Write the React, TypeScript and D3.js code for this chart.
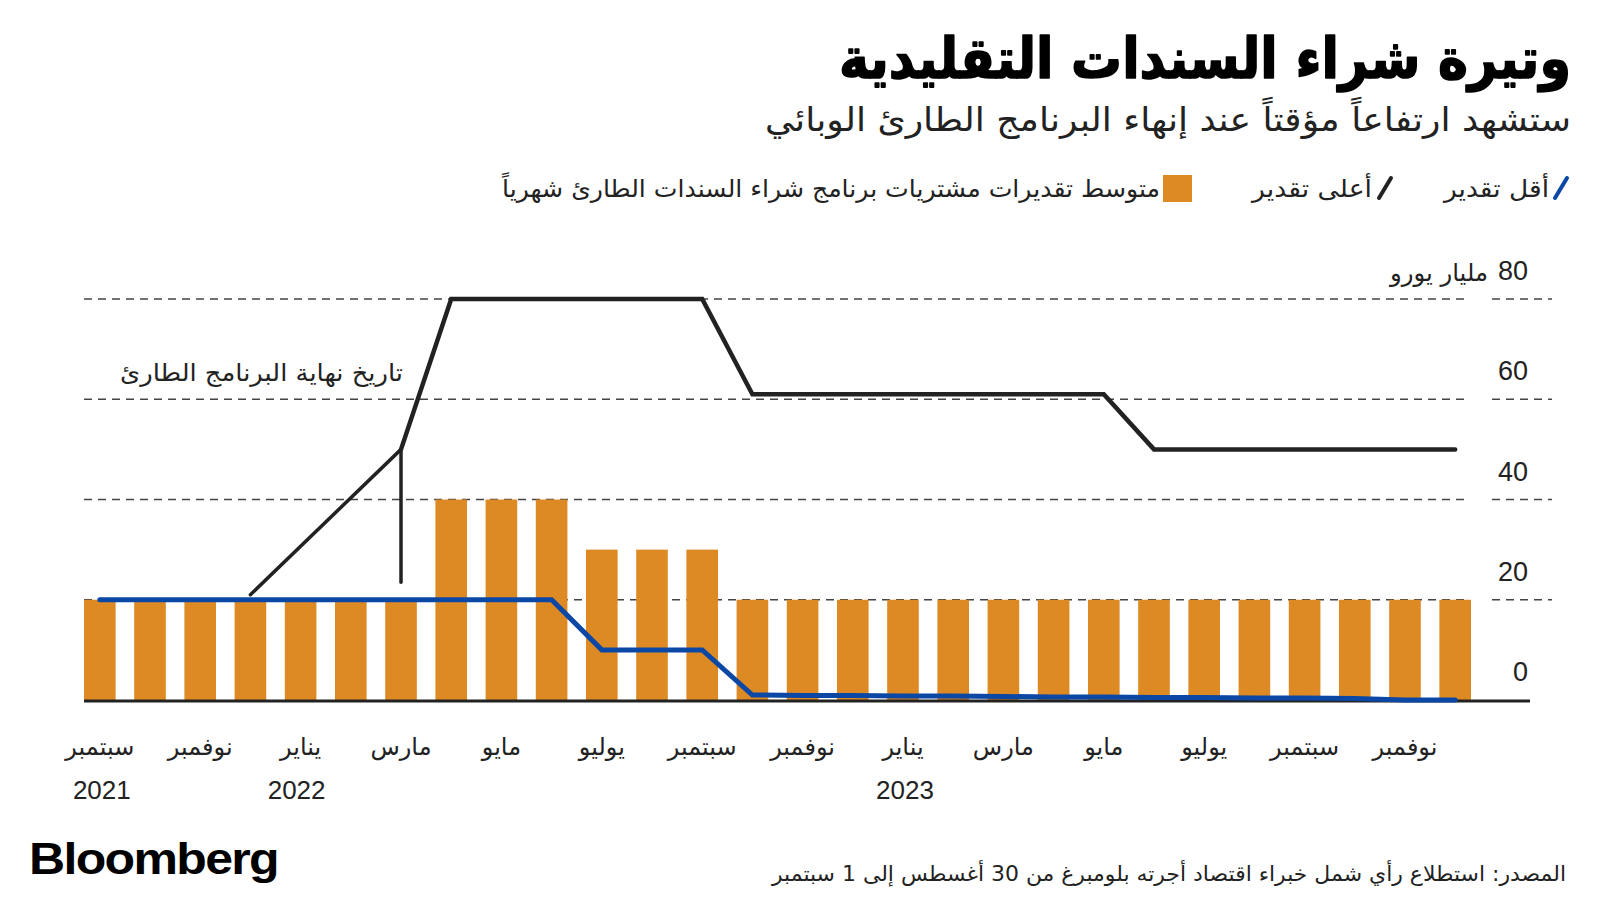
import React from "react";
import * as d3 from "d3";

// ---- data ----
const months: string[] = [
  "2021-09", "2021-10", "2021-11", "2021-12",
  "2022-01", "2022-02", "2022-03", "2022-04", "2022-05", "2022-06",
  "2022-07", "2022-08", "2022-09", "2022-10", "2022-11", "2022-12",
  "2023-01", "2023-02", "2023-03", "2023-04", "2023-05", "2023-06",
  "2023-07", "2023-08", "2023-09", "2023-10", "2023-11", "2023-12",
];

// median monthly purchases estimate (bn EUR)
const avgEstimate: number[] = [
  20, 20, 20, 20, 20, 20, 20,
  40, 40, 40,
  30, 30, 30,
  20, 20, 20, 20, 20, 20, 20, 20, 20, 20, 20, 20, 20, 20, 20,
];

// highest estimate (points where the line bends)
const highMonths: string[] = ["2021-12", "2022-03", "2022-04", "2022-09", "2022-10", "2023-05", "2023-06", "2023-12"];
const highValues: number[] = [21, 50, 80, 80, 61, 61, 50, 50];

// lowest estimate
const lowMonths: string[] = [
  "2021-09", "2022-06", "2022-07", "2022-09", "2022-10", "2022-11", "2022-12",
  "2023-01", "2023-02", "2023-03", "2023-04", "2023-05", "2023-06", "2023-07",
  "2023-08", "2023-09", "2023-10", "2023-11", "2023-12",
];
const lowValues: number[] = [20, 20, 10, 10, 1, 0.9, 0.9, 0.8, 0.8, 0.7, 0.6, 0.6, 0.5, 0.5, 0.4, 0.4, 0.3, 0, 0];

const yTicks: number[] = [0, 20, 40, 60, 80];
const yUnit = "مليار يورو";

const tickMonths: string[] = [
  "2021-09", "2021-11", "2022-01", "2022-03", "2022-05", "2022-07", "2022-09",
  "2022-11", "2023-01", "2023-03", "2023-05", "2023-07", "2023-09", "2023-11",
];
const tickLabels: string[] = [
  "سبتمبر", "نوفمبر", "يناير", "مارس", "مايو", "يوليو", "سبتمبر",
  "نوفمبر", "يناير", "مارس", "مايو", "يوليو", "سبتمبر", "نوفمبر",
];
const yearMonths: string[] = ["2021-09", "2022-01", "2023-01"];
const yearLabels: string[] = ["2021", "2022", "2023"];

const annotationMonth = "2022-03";
const annotationTop = 50;
const annotationBottom = 23.5;
const annotationText = "تاريخ نهاية البرنامج الطارئ";

const title = "وتيرة شراء السندات التقليدية";
const subtitle = "ستشهد ارتفاعاً مؤقتاً عند إنهاء البرنامج الطارئ الوبائي";
const legendLow = "أقل تقدير";
const legendHigh = "أعلى تقدير";
const legendAvg = "متوسط تقديرات مشتريات برنامج شراء السندات الطارئ شهرياً";
const source = "المصدر: استطلاع رأي شمل خبراء اقتصاد أجرته بلومبرغ من 30 أغسطس إلى 1 سبتمبر";

// ---- styles ----
const ORANGE = "#dd8a25";
const BLUE = "#0b48a6";
const BLACK = "#222222";
const AR = "'DejaVu Sans', 'Noto Sans', sans-serif";
const NUM = "'Liberation Sans', Arial, sans-serif";

export default function App() {
  const x = d3.scaleBand<string>().domain(months).range([84, 1471]).paddingInner(0.37).paddingOuter(0);
  const y = d3.scaleLinear().domain([0, 80]).range([700, 299]);
  const cx = (m: string) => (x(m) as number) + x.bandwidth() / 2;

  type P = { m: string; v: number };
  const line = d3.line<P>().x((d) => cx(d.m)).y((d) => y(d.v));
  const highPts: P[] = highMonths.map((m, i) => ({ m, v: highValues[i] }));
  const lowPts: P[] = lowMonths.map((m, i) => ({ m, v: lowValues[i] }));
  const [risePts, restPts] = [highPts.slice(0, 2), highPts.slice(1)];

  return (
    <svg width={1600} height={900} style={{ position: "absolute", left: 0, top: 0, background: "#fff" }}>
      {/* title */}
      <text x={1571} y={78} textAnchor="end" fontFamily={AR} fontWeight={700} fontSize={56}
        stroke="#000" strokeWidth={1.6} strokeLinejoin="round"
        textLength={732} lengthAdjust="spacingAndGlyphs" fill="#000">{title}</text>
      <text x={1571} y={131} textAnchor="end" fontFamily={AR} fontSize={33}
        textLength={806} lengthAdjust="spacingAndGlyphs" fill="#222">{subtitle}</text>

      {/* legend */}
      <line x1={1555} y1={198} x2={1567} y2={178} stroke={BLUE} strokeWidth={4} strokeLinecap="round" />
      <text x={1549} y={197} textAnchor="end" fontFamily={AR} fontSize={24}
        textLength={105} lengthAdjust="spacingAndGlyphs" fill="#222">{legendLow}</text>
      <line x1={1379} y1={198} x2={1391} y2={178} stroke={BLACK} strokeWidth={4} strokeLinecap="round" />
      <text x={1372} y={197} textAnchor="end" fontFamily={AR} fontSize={24}
        textLength={120} lengthAdjust="spacingAndGlyphs" fill="#222">{legendHigh}</text>
      <rect x={1163} y={175} width={29} height={27} fill={ORANGE} />
      <text x={1160} y={197} textAnchor="end" fontFamily={AR} fontSize={24}
        textLength={658} lengthAdjust="spacingAndGlyphs" fill="#222">{legendAvg}</text>

      {/* gridlines */}
      {yTicks.filter((t) => t > 0).map((t) => (
        <g key={t}>
          <line x1={84} x2={1470} y1={y(t)} y2={y(t)} stroke="#444" strokeWidth={1.5} strokeDasharray="8,6" />
          <line x1={1492} x2={1552} y1={y(t)} y2={y(t)} stroke="#444" strokeWidth={1.5} strokeDasharray="8,6" />
        </g>
      ))}

      {/* y labels */}
      {yTicks.map((t) => (
        <text key={t} x={1528} y={y(t) - 19} textAnchor="end" fontFamily={NUM} fontSize={27} fill="#222">{t}</text>
      ))}
      <text x={1488} y={y(80) - 18} textAnchor="end" fontFamily={AR} fontSize={24}
        textLength={98} lengthAdjust="spacingAndGlyphs" fill="#222">{yUnit}</text>

      {/* bars */}
      {months.map((m, i) => (
        <rect key={m} x={x(m)} y={y(avgEstimate[i])} width={x.bandwidth()} height={y(0) - y(avgEstimate[i])} fill={ORANGE} />
      ))}

      {/* axis */}
      <line x1={84} x2={1530} y1={701} y2={701} stroke={BLACK} strokeWidth={3} />

      {/* annotation */}
      <line x1={cx(annotationMonth)} x2={cx(annotationMonth)} y1={y(annotationTop)} y2={y(annotationBottom)}
        stroke={BLACK} strokeWidth={3.5} strokeLinecap="round" />
      <text x={403} y={381} textAnchor="end" fontFamily={AR} fontSize={24}
        textLength={283} lengthAdjust="spacingAndGlyphs" fill="#222">{annotationText}</text>

      {/* lines */}
      <path d={line(risePts) ?? ""} fill="none" stroke={BLACK} strokeWidth={3.5} strokeLinecap="round" />
      <path d={line(restPts) ?? ""} fill="none" stroke={BLACK} strokeWidth={4.5} strokeLinecap="round" strokeLinejoin="miter" />
      <path d={line(lowPts) ?? ""} fill="none" stroke={BLUE} strokeWidth={5} strokeLinecap="round" strokeLinejoin="miter" />

      {/* x labels */}
      {tickMonths.map((m, i) => (
        <text key={m} x={cx(m)} y={755} textAnchor="middle" fontFamily={AR} fontSize={24} fill="#222">{tickLabels[i]}</text>
      ))}
      {yearMonths.map((m, i) => (
        <text key={m} x={cx(m) + (i === 1 ? -4 : 2)} y={799} textAnchor="middle" fontFamily={NUM} fontSize={26} fill="#222">{yearLabels[i]}</text>
      ))}

      {/* footer */}
      <text x={29} y={874} fontFamily={NUM} fontWeight={700} fontSize={45} letterSpacing={-1.5}
        textLength={249} lengthAdjust="spacingAndGlyphs" fill="#000">Bloomberg</text>
      <text x={1566} y={881} textAnchor="start" direction="rtl" fontFamily={AR} fontSize={21}
        textLength={794} lengthAdjust="spacingAndGlyphs" fill="#222">{source}</text>
    </svg>
  );
}
